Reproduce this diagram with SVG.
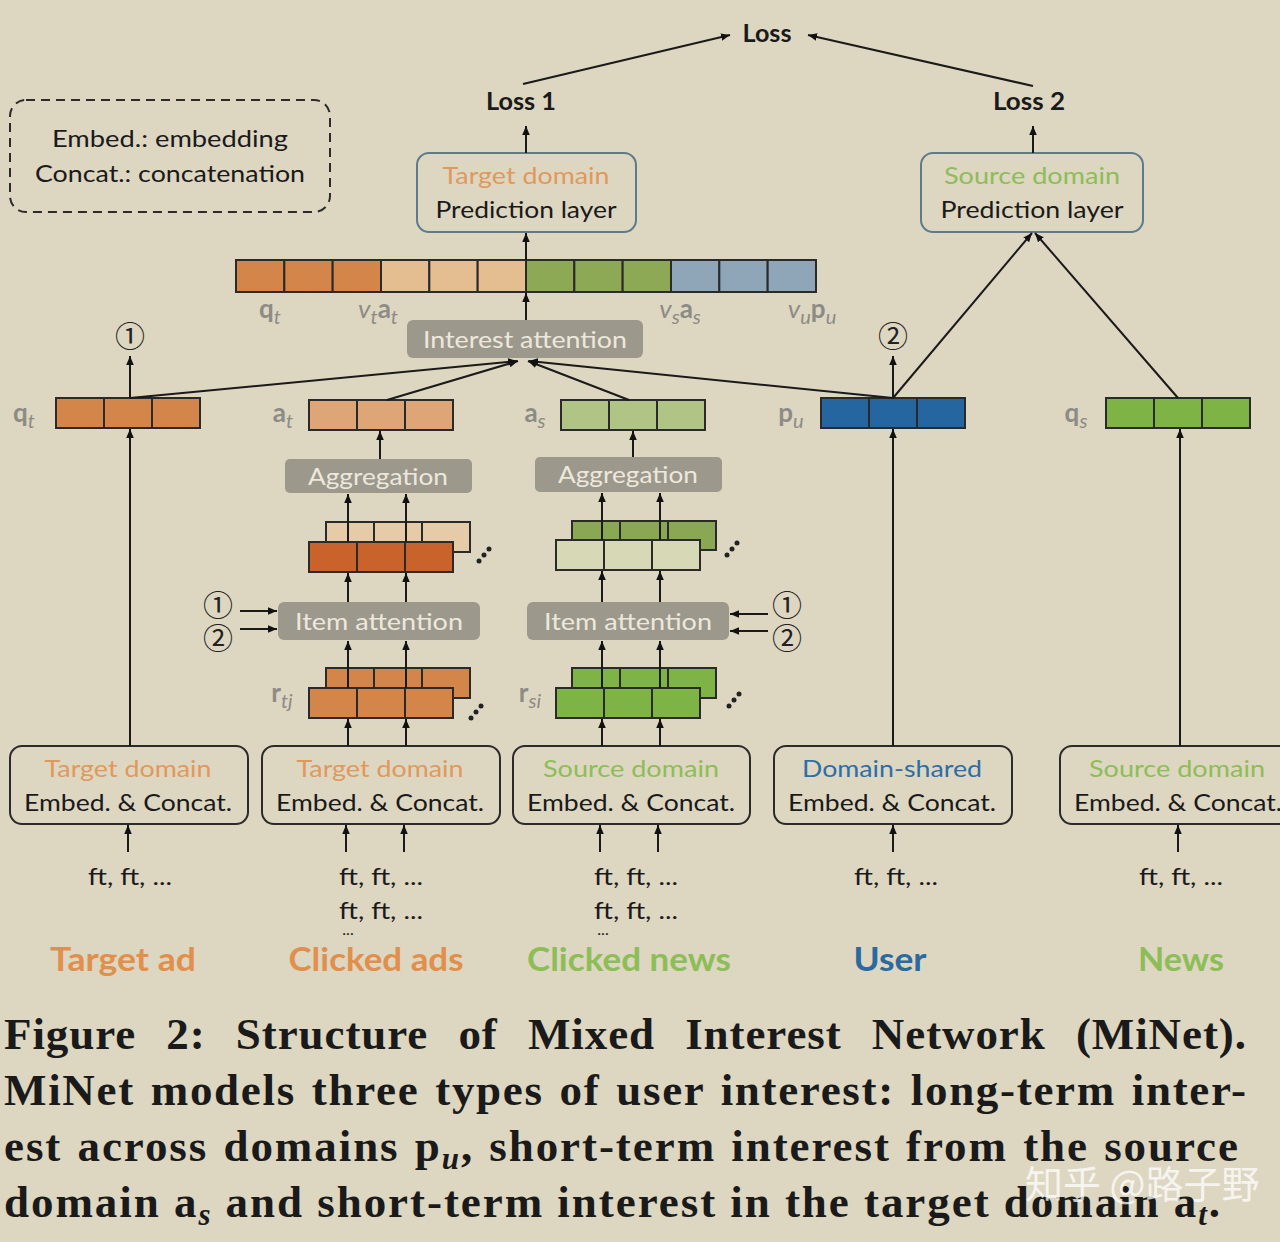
<svg xmlns="http://www.w3.org/2000/svg" width="1280" height="1242" viewBox="0 0 1280 1242">
<defs>
<marker id="ah" viewBox="0 0 10 10" refX="10" refY="5" markerWidth="9" markerHeight="9" markerUnits="userSpaceOnUse" orient="auto">
<path d="M0,0.8 L10,5 L0,9.2 z" fill="#111"/>
</marker>
<style>
.t{font-family:Lato,'Liberation Sans',sans-serif;font-size:24px;text-anchor:middle;fill:#1a1a1a}
.b{font-weight:bold}
.or{fill:#e0995c}
.gr{fill:#8dbd57}
.bl{fill:#2e6ea6}
.gl{font-family:Lato,'Liberation Sans',sans-serif;font-size:26px;font-weight:bold;fill:#8d8b85;text-anchor:middle}
.gl tspan.s{font-style:italic;font-weight:normal;font-size:20px}
.gbox{fill:#9c988c}
.gt{font-family:Lato,'Liberation Sans',sans-serif;font-size:24px;text-anchor:middle;fill:#ece8dc}
.cell{stroke:#2a2a2a;stroke-width:2}
.box{fill:none;stroke:#2b2b2b;stroke-width:2}
.pbox{fill:none;stroke:#5d7b8c;stroke-width:2}
.ar{stroke:#1a1a1a;stroke-width:2;fill:none;marker-end:url(#ah)}
.cat{font-family:Lato,'Liberation Sans',sans-serif;font-size:32px;font-weight:bold;text-anchor:middle}
.circ{font-family:'DejaVu Serif','Noto Sans CJK SC',serif;font-size:30px;text-anchor:middle;fill:#222}
.cap{font-family:'Liberation Serif',serif;font-size:45px;font-weight:bold;fill:#1a1a1a}
.sub{font-style:italic;font-size:31px}
.dot{fill:#222}
</style>
</defs>
<rect width="1280" height="1242" fill="#ddd6c1"/>

<g id="legend">
<rect x="10" y="100" width="320" height="112" rx="16" fill="none" stroke="#2b2b2b" stroke-width="2" stroke-dasharray="9,6"/>
<text class="t" x="170" y="147" textLength="236" lengthAdjust="spacingAndGlyphs">Embed.: embedding</text>
<text class="t" x="170" y="182" textLength="270" lengthAdjust="spacingAndGlyphs">Concat.: concatenation</text>
</g>

<g id="loss">
<text class="t b" x="767" y="42" textLength="49" lengthAdjust="spacingAndGlyphs">Loss</text>
</g>
<g id="loss1">
<text class="t b" x="521" y="110" textLength="70" lengthAdjust="spacingAndGlyphs">Loss 1</text>
</g>
<g id="loss2">
<text class="t b" x="1029" y="110" textLength="72" lengthAdjust="spacingAndGlyphs">Loss 2</text>
</g>

<g id="target-pred">
<rect class="pbox" x="417" y="153" width="219" height="79" rx="12"/>
<text class="t or" x="526" y="184" textLength="167" lengthAdjust="spacingAndGlyphs">Target domain</text>
<text class="t" x="526" y="218" textLength="181" lengthAdjust="spacingAndGlyphs">Prediction layer</text>
</g>
<g id="source-pred">
<rect class="pbox" x="921" y="153" width="222" height="79" rx="12"/>
<text class="t gr" x="1032" y="184" textLength="176" lengthAdjust="spacingAndGlyphs">Source domain</text>
<text class="t" x="1032" y="218" textLength="183" lengthAdjust="spacingAndGlyphs">Prediction layer</text>
</g>

<g id="concat-vector">
<rect class="cell" x="236" y="260" width="48.33" height="32" fill="#d4854a"/>
<rect class="cell" x="284.33" y="260" width="48.33" height="32" fill="#d4854a"/>
<rect class="cell" x="332.67" y="260" width="48.33" height="32" fill="#d4854a"/>
<rect class="cell" x="381" y="260" width="48.33" height="32" fill="#e4bd90"/>
<rect class="cell" x="429.33" y="260" width="48.33" height="32" fill="#e4bd90"/>
<rect class="cell" x="477.67" y="260" width="48.33" height="32" fill="#e4bd90"/>
<rect class="cell" x="526" y="260" width="48.33" height="32" fill="#8da955"/>
<rect class="cell" x="574.33" y="260" width="48.33" height="32" fill="#8da955"/>
<rect class="cell" x="622.67" y="260" width="48.33" height="32" fill="#8da955"/>
<rect class="cell" x="671" y="260" width="48.33" height="32" fill="#8ea6b8"/>
<rect class="cell" x="719.33" y="260" width="48.33" height="32" fill="#8ea6b8"/>
<rect class="cell" x="767.67" y="260" width="48.33" height="32" fill="#8ea6b8"/>
<text class="gl" x="270" y="318">q<tspan class="s" dy="6">t</tspan></text>
<text class="gl" x="378" y="318"><tspan class="s" style="font-size:26px">v</tspan><tspan class="s" dy="6">t</tspan><tspan dy="-6">a</tspan><tspan class="s" dy="6">t</tspan></text>
<text class="gl" x="680" y="318"><tspan class="s" style="font-size:26px">v</tspan><tspan class="s" dy="6">s</tspan><tspan dy="-6">a</tspan><tspan class="s" dy="6">s</tspan></text>
<text class="gl" x="812" y="318"><tspan class="s" style="font-size:26px">v</tspan><tspan class="s" dy="6">u</tspan><tspan dy="-6">p</tspan><tspan class="s" dy="6">u</tspan></text>
</g>

<g id="interest-attention">
<rect class="gbox" x="407" y="320" width="236" height="38" rx="6"/>
<text class="gt" x="525" y="348" textLength="204" lengthAdjust="spacingAndGlyphs">Interest attention</text>
</g>

<g id="qt-vector">
<rect class="cell" x="56" y="398" width="48" height="30" fill="#d4854a"/>
<rect class="cell" x="104" y="398" width="48" height="30" fill="#d4854a"/>
<rect class="cell" x="152" y="398" width="48" height="30" fill="#d4854a"/>
<text class="gl" x="24" y="422">q<tspan class="s" dy="6">t</tspan></text>
</g>
<g id="at-vector">
<rect class="cell" x="309" y="400" width="48" height="30" fill="#dea676"/>
<rect class="cell" x="357" y="400" width="48" height="30" fill="#dea676"/>
<rect class="cell" x="405" y="400" width="48" height="30" fill="#dea676"/>
<text class="gl" x="283" y="422">a<tspan class="s" dy="6">t</tspan></text>
</g>
<g id="as-vector">
<rect class="cell" x="561" y="400" width="48" height="30" fill="#b0c485"/>
<rect class="cell" x="609" y="400" width="48" height="30" fill="#b0c485"/>
<rect class="cell" x="657" y="400" width="48" height="30" fill="#b0c485"/>
<text class="gl" x="535" y="422">a<tspan class="s" dy="6">s</tspan></text>
</g>
<g id="pu-vector">
<rect class="cell" x="821" y="398" width="48" height="30" fill="#2566a0"/>
<rect class="cell" x="869" y="398" width="48" height="30" fill="#2566a0"/>
<rect class="cell" x="917" y="398" width="48" height="30" fill="#2566a0"/>
<text class="gl" x="791" y="422">p<tspan class="s" dy="6">u</tspan></text>
</g>
<g id="qs-vector">
<rect class="cell" x="1106" y="398" width="48" height="30" fill="#7db445"/>
<rect class="cell" x="1154" y="398" width="48" height="30" fill="#7db445"/>
<rect class="cell" x="1202" y="398" width="48" height="30" fill="#7db445"/>
<text class="gl" x="1076" y="422">q<tspan class="s" dy="6">s</tspan></text>
</g>

<g id="aggregation-left">
<rect class="gbox" x="285" y="459" width="187" height="34" rx="5"/>
<text class="gt" x="378" y="485" textLength="140" lengthAdjust="spacingAndGlyphs">Aggregation</text>
</g>
<g id="aggregation-right">
<rect class="gbox" x="535" y="457" width="187" height="35" rx="5"/>
<text class="gt" x="628" y="483" textLength="140" lengthAdjust="spacingAndGlyphs">Aggregation</text>
</g>

<g id="weighted-left">
<rect class="cell" x="326" y="522" width="48" height="30" fill="#e6cba8"/>
<rect class="cell" x="374" y="522" width="48" height="30" fill="#e6cba8"/>
<rect class="cell" x="422" y="522" width="48" height="30" fill="#e6cba8"/>
<rect class="cell" x="309" y="542" width="48" height="30" fill="#c9632b"/>
<rect class="cell" x="357" y="542" width="48" height="30" fill="#c9632b"/>
<rect class="cell" x="405" y="542" width="48" height="30" fill="#c9632b"/>
<circle class="dot" cx="479" cy="561" r="2.5"/><circle class="dot" cx="484" cy="555" r="2.5"/><circle class="dot" cx="489" cy="549" r="2.5"/>
</g>
<g id="weighted-right">
<rect class="cell" x="572" y="521" width="48" height="29" fill="#8aa853"/>
<rect class="cell" x="620" y="521" width="48" height="29" fill="#8aa853"/>
<rect class="cell" x="668" y="521" width="48" height="29" fill="#8aa853"/>
<rect class="cell" x="556" y="540" width="48" height="30" fill="#d6d8b6"/>
<rect class="cell" x="604" y="540" width="48" height="30" fill="#d6d8b6"/>
<rect class="cell" x="652" y="540" width="48" height="30" fill="#d6d8b6"/>
<circle class="dot" cx="727" cy="555" r="2.5"/><circle class="dot" cx="732" cy="549" r="2.5"/><circle class="dot" cx="737" cy="543" r="2.5"/>
</g>

<g id="item-attention-left">
<rect class="gbox" x="278" y="602" width="202" height="38" rx="6"/>
<text class="gt" x="379" y="630" textLength="168" lengthAdjust="spacingAndGlyphs">Item attention</text>
<text class="circ" x="218" y="616">①</text>
<text class="circ" x="218" y="649">②</text>
</g>
<g id="item-attention-right">
<rect class="gbox" x="527" y="602" width="202" height="38" rx="6"/>
<text class="gt" x="628" y="630" textLength="168" lengthAdjust="spacingAndGlyphs">Item attention</text>
<text class="circ" x="787" y="616">①</text>
<text class="circ" x="787" y="649">②</text>
</g>

<g id="rtj-vectors">
<rect class="cell" x="326" y="668" width="48" height="30" fill="#d4854a"/>
<rect class="cell" x="374" y="668" width="48" height="30" fill="#d4854a"/>
<rect class="cell" x="422" y="668" width="48" height="30" fill="#d4854a"/>
<rect class="cell" x="309" y="688" width="48" height="30" fill="#d4854a"/>
<rect class="cell" x="357" y="688" width="48" height="30" fill="#d4854a"/>
<rect class="cell" x="405" y="688" width="48" height="30" fill="#d4854a"/>
<circle class="dot" cx="471" cy="718" r="2.5"/><circle class="dot" cx="476" cy="712" r="2.5"/><circle class="dot" cx="481" cy="706" r="2.5"/>
<text class="gl" x="282" y="702">r<tspan class="s" dy="6">tj</tspan></text>
</g>
<g id="rsi-vectors">
<rect class="cell" x="572" y="668" width="48" height="30" fill="#7db445"/>
<rect class="cell" x="620" y="668" width="48" height="30" fill="#7db445"/>
<rect class="cell" x="668" y="668" width="48" height="30" fill="#7db445"/>
<rect class="cell" x="556" y="688" width="48" height="30" fill="#7db445"/>
<rect class="cell" x="604" y="688" width="48" height="30" fill="#7db445"/>
<rect class="cell" x="652" y="688" width="48" height="30" fill="#7db445"/>
<circle class="dot" cx="729" cy="706" r="2.5"/><circle class="dot" cx="734" cy="700" r="2.5"/><circle class="dot" cx="739" cy="694" r="2.5"/>
<text class="gl" x="530" y="702">r<tspan class="s" dy="6">si</tspan></text>
</g>

<g id="embed-target-ad">
<rect class="box" x="10" y="746" width="238" height="78" rx="12"/>
<text class="t or" x="128" y="777" textLength="167" lengthAdjust="spacingAndGlyphs">Target domain</text>
<text class="t" x="128" y="811" textLength="208" lengthAdjust="spacingAndGlyphs">Embed. &amp; Concat.</text>
</g>
<g id="embed-clicked-ads">
<rect class="box" x="262" y="746" width="238" height="78" rx="12"/>
<text class="t or" x="380" y="777" textLength="167" lengthAdjust="spacingAndGlyphs">Target domain</text>
<text class="t" x="380" y="811" textLength="208" lengthAdjust="spacingAndGlyphs">Embed. &amp; Concat.</text>
</g>
<g id="embed-clicked-news">
<rect class="box" x="513" y="746" width="237" height="78" rx="12"/>
<text class="t gr" x="631" y="777" textLength="176" lengthAdjust="spacingAndGlyphs">Source domain</text>
<text class="t" x="631" y="811" textLength="208" lengthAdjust="spacingAndGlyphs">Embed. &amp; Concat.</text>
</g>
<g id="embed-user">
<rect class="box" x="774" y="746" width="238" height="78" rx="12"/>
<text class="t bl" x="892" y="777" textLength="180" lengthAdjust="spacingAndGlyphs">Domain-shared</text>
<text class="t" x="892" y="811" textLength="208" lengthAdjust="spacingAndGlyphs">Embed. &amp; Concat.</text>
</g>
<g id="embed-news">
<rect class="box" x="1060" y="746" width="238" height="78" rx="12"/>
<text class="t gr" x="1177" y="777" textLength="176" lengthAdjust="spacingAndGlyphs">Source domain</text>
<text class="t" x="1178" y="811" textLength="208" lengthAdjust="spacingAndGlyphs">Embed. &amp; Concat.</text>
</g>

<g id="inputs">
<text class="t" x="130" y="885" textLength="84" lengthAdjust="spacingAndGlyphs">ft, ft, ...</text>
<text class="t" x="381" y="885" textLength="84" lengthAdjust="spacingAndGlyphs">ft, ft, ...</text>
<text class="t" x="381" y="919" textLength="84" lengthAdjust="spacingAndGlyphs">ft, ft, ...</text>
<text class="t" x="348" y="935" style="font-size:16px">...</text>
<text class="t" x="636" y="885" textLength="84" lengthAdjust="spacingAndGlyphs">ft, ft, ...</text>
<text class="t" x="636" y="919" textLength="84" lengthAdjust="spacingAndGlyphs">ft, ft, ...</text>
<text class="t" x="603" y="935" style="font-size:16px">...</text>
<text class="t" x="896" y="885" textLength="84" lengthAdjust="spacingAndGlyphs">ft, ft, ...</text>
<text class="t" x="1181" y="885" textLength="84" lengthAdjust="spacingAndGlyphs">ft, ft, ...</text>
</g>

<g id="categories">
<text class="cat" x="123" y="971" fill="#e0904c" textLength="146" lengthAdjust="spacingAndGlyphs">Target ad</text>
<text class="cat" x="376" y="971" fill="#e0904c" textLength="175" lengthAdjust="spacingAndGlyphs">Clicked ads</text>
<text class="cat" x="629" y="971" fill="#8dbd57" textLength="204" lengthAdjust="spacingAndGlyphs">Clicked news</text>
<text class="cat" x="890" y="971" fill="#2a6aa0" textLength="73" lengthAdjust="spacingAndGlyphs">User</text>
<text class="cat" x="1181" y="971" fill="#8dbd57" textLength="86" lengthAdjust="spacingAndGlyphs">News</text>
</g>

<g id="top-circles">
<text class="circ" x="130" y="347">①</text>
<text class="circ" x="893" y="347">②</text>
</g>

<g id="connectors">
<line class="ar" x1="523" y1="84" x2="730" y2="35"/>
<line class="ar" x1="1033" y1="86" x2="808" y2="35"/>
<line class="ar" x1="526" y1="153" x2="526" y2="126"/>
<line class="ar" x1="1033" y1="153" x2="1033" y2="126"/>
<line class="ar" x1="526" y1="260" x2="526" y2="233"/>
<line class="ar" x1="526" y1="320" x2="526" y2="293"/>
<line class="ar" x1="130" y1="398" x2="517" y2="361"/>
<line class="ar" x1="387" y1="400" x2="518" y2="361"/>
<line class="ar" x1="629" y1="400" x2="528" y2="361"/>
<line class="ar" x1="893" y1="398" x2="529" y2="361"/>
<line class="ar" x1="893" y1="398" x2="1032" y2="233"/>
<line class="ar" x1="1178" y1="398" x2="1035" y2="233"/>
<line class="ar" x1="130" y1="398" x2="130" y2="356"/>
<line class="ar" x1="893" y1="398" x2="893" y2="356"/>
<line class="ar" x1="130" y1="746" x2="130" y2="429"/>
<line class="ar" x1="893" y1="746" x2="893" y2="429"/>
<line class="ar" x1="1180" y1="746" x2="1180" y2="429"/>
<line class="ar" x1="380" y1="459" x2="380" y2="431"/>
<line class="ar" x1="633" y1="457" x2="633" y2="431"/>
<line class="ar" x1="348" y1="542" x2="348" y2="494"/>
<line class="ar" x1="406" y1="542" x2="406" y2="494"/>
<line class="ar" x1="602" y1="540" x2="602" y2="493"/>
<line class="ar" x1="660" y1="540" x2="660" y2="493"/>
<line class="ar" x1="348" y1="602" x2="348" y2="573"/>
<line class="ar" x1="406" y1="602" x2="406" y2="573"/>
<line class="ar" x1="602" y1="602" x2="602" y2="571"/>
<line class="ar" x1="660" y1="602" x2="660" y2="571"/>
<line class="ar" x1="240" y1="611" x2="277" y2="611"/>
<line class="ar" x1="240" y1="629" x2="277" y2="629"/>
<line class="ar" x1="768" y1="614" x2="730" y2="614"/>
<line class="ar" x1="768" y1="631" x2="730" y2="631"/>
<line class="ar" x1="348" y1="688" x2="348" y2="641"/>
<line class="ar" x1="406" y1="688" x2="406" y2="641"/>
<line class="ar" x1="602" y1="688" x2="602" y2="641"/>
<line class="ar" x1="660" y1="688" x2="660" y2="641"/>
<line class="ar" x1="348" y1="746" x2="348" y2="719"/>
<line class="ar" x1="406" y1="746" x2="406" y2="719"/>
<line class="ar" x1="602" y1="746" x2="602" y2="719"/>
<line class="ar" x1="660" y1="746" x2="660" y2="719"/>
<line class="ar" x1="128" y1="852" x2="128" y2="825"/>
<line class="ar" x1="346" y1="852" x2="346" y2="825"/>
<line class="ar" x1="404" y1="852" x2="404" y2="825"/>
<line class="ar" x1="600" y1="852" x2="600" y2="825"/>
<line class="ar" x1="658" y1="852" x2="658" y2="825"/>
<line class="ar" x1="893" y1="852" x2="893" y2="825"/>
<line class="ar" x1="1178" y1="852" x2="1178" y2="825"/>
</g>

<g id="caption">
<text class="cap" x="4" y="1049" word-spacing="18" textLength="1242" lengthAdjust="spacing">Figure 2: Structure of Mixed Interest Network (MiNet).</text>
<text class="cap" x="4" y="1105" word-spacing="3" textLength="1242" lengthAdjust="spacing">MiNet models three types of user interest: long-term inter-</text>
<text class="cap" x="4" y="1161" word-spacing="2" textLength="1234" lengthAdjust="spacing">est across domains p<tspan class="sub" dy="8">u</tspan><tspan dy="-8">, short-term interest from the source</tspan></text>
<text class="cap" x="4" y="1217" word-spacing="0" textLength="1216" lengthAdjust="spacing">domain a<tspan class="sub" dy="8">s</tspan><tspan dy="-8"> and short-term interest in the target domain a</tspan><tspan class="sub" dy="8">t</tspan><tspan dy="-8">.</tspan></text>
</g>

<g id="watermark">
<text x="1025" y="1198" style="font-family:'Noto Sans CJK SC',sans-serif;font-size:38px;fill:#ffffff;fill-opacity:0.75">知乎 @路子野</text>
</g>
</svg>
